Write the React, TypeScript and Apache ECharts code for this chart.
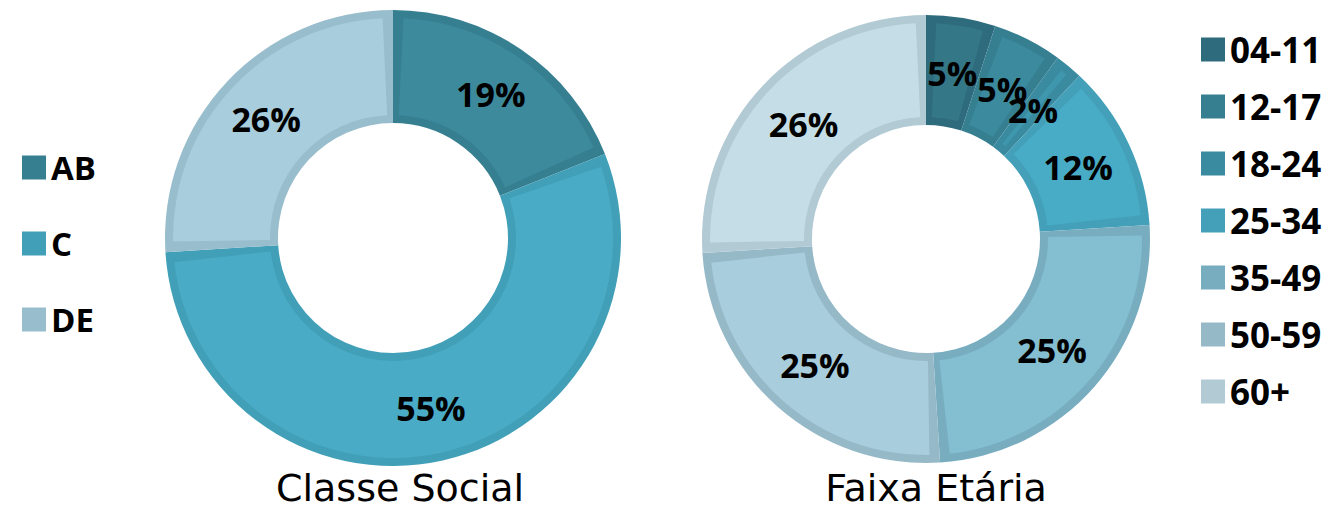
import React, { useEffect, useRef } from "react";
import * as echarts from "echarts";

const classeCategories = ["AB", "C", "DE"];
const classeValues = [19, 55, 26];
const classeFill = ["#3e8a9d", "#49abc6", "#a8cddd"];
const classeBorder = ["#357f91", "#419fb7", "#98bdcc"];

const faixaCategories = ["04-11", "12-17", "18-24", "25-34", "35-49", "50-59", "60+"];
const faixaValues = [5, 5, 2, 12, 25, 25, 26];
const faixaFill = ["#347787", "#3b8a9d", "#3f97ad", "#49acc7", "#84bed1", "#a8cddd", "#c4dde6"];
const faixaBorder = ["#2e6b7c", "#357f91", "#3a8aa0", "#43a0b8", "#78adc0", "#96b9c8", "#b2cad4"];

const titles = ["Classe Social", "Faixa Etária"];

const labelFont = "'Open Sans', sans-serif";

function buildPair(
  names: string[],
  values: number[],
  fill: string[],
  border: string[],
  center: [number, number],
  inner: number,
  outer: number,
  inset: number,
  pad: number,
  labelR: number
) {
  const base = {
    type: "pie",
    center,
    startAngle: 90,
    clockwise: true,
    avoidLabelOverlap: false,
    silent: true,
    labelLine: { show: false },
  };
  return [
    {
      ...base,
      radius: [inner, outer],
      z: 2,
      label: { show: false },
      data: names.map((n, i) => ({ name: n, value: values[i], itemStyle: { color: border[i], borderWidth: 0 } })),
    },
    {
      ...base,
      radius: [inner + inset, outer - inset],
      padAngle: pad,
      z: 3,
      label: { show: false },
      data: names.map((n, i) => ({ name: n, value: values[i], itemStyle: { color: fill[i], borderWidth: 0 } })),
    },
    {
      ...base,
      radius: [labelR - 60, labelR + 60],
      z: 4,
      label: {
        show: true,
        position: "inside",
        formatter: (p: any) => `${p.value}%`,
        fontFamily: labelFont,
        fontWeight: "bold",
        fontSize: 34,
        color: "#000",
      },
      labelLayout: { hideOverlap: false },
      data: names.map((n, i) => ({ name: n, value: values[i], itemStyle: { color: "rgba(0,0,0,0)", borderWidth: 0 } })),
    },
  ];
}

export default function App() {
  const ref = useRef<HTMLDivElement>(null);
  useEffect(() => {
    if (!ref.current) return;
    const chart = echarts.init(ref.current, null, { renderer: "svg" });
    const option: any = {
      animation: false,
      backgroundColor: "#fff",
      legend: [
        {
          orient: "vertical",
          left: 22,
          top: 151,
          padding: 0,
          itemWidth: 24,
          itemHeight: 24,
          itemGap: 43,
          itemTextGap: 13,
          icon: "rect",
          selectedMode: false,
          textStyle: { fontFamily: labelFont, fontWeight: "bold", fontSize: 33, color: "#000" },
          data: classeCategories.map((n, i) => ({ name: n, itemStyle: { color: classeBorder[i], borderWidth: 0 } })),
        },
        {
          orient: "vertical",
          left: 1201,
          top: 32,
          padding: 0,
          itemWidth: 24,
          itemHeight: 24,
          itemGap: 22,
          itemTextGap: 11,
          icon: "rect",
          selectedMode: false,
          textStyle: { fontFamily: labelFont, fontWeight: "bold", fontSize: 35, color: "#000" },
          data: faixaCategories.map((n, i) => ({ name: n, itemStyle: { color: faixaBorder[i], borderWidth: 0 } })),
        },
      ],
      series: [
        ...buildPair(classeCategories, classeValues, classeFill, classeBorder, [393, 238], 115, 228, 8, 5.4, 171),
        ...buildPair(faixaCategories, faixaValues, faixaFill, faixaBorder, [926, 239], 114, 224, 8, 5.4, 165),
      ],
      graphic: [
        {
          type: "text",
          x: 400,
          y: 488,
          style: {
            text: titles[0],
            fontFamily: "'DejaVu Sans', sans-serif",
            fontSize: 38,
            fill: "#000",
            align: "center",
            verticalAlign: "middle",
          },
        },
        {
          type: "text",
          x: 936,
          y: 488,
          style: {
            text: titles[1],
            fontFamily: "'DejaVu Sans', sans-serif",
            fontSize: 38,
            fill: "#000",
            align: "center",
            verticalAlign: "middle",
          },
        },
      ],
    };
    chart.setOption(option);
    return () => chart.dispose();
  }, []);
  return <div ref={ref} style={{ position: "fixed", left: 0, top: 0, width: 1332, height: 510 }} />;
}
